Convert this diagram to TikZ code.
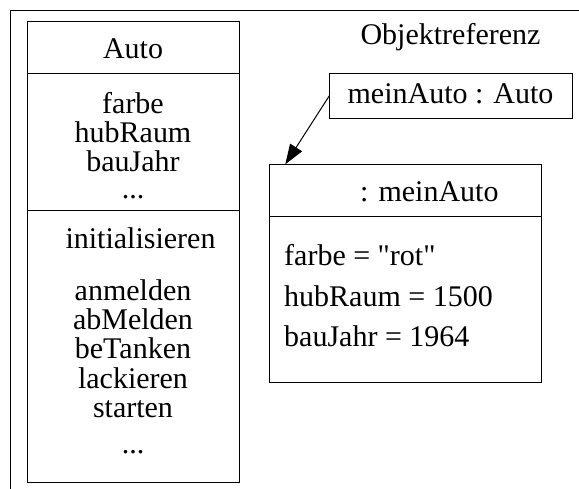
\documentclass[tikz,border=0pt]{standalone}
\usepackage{fontspec}
\setmainfont{Liberation Serif}[Ligatures=TeXOff]
\usetikzlibrary{arrows.meta}
\begin{document}
\begin{tikzpicture}[x=1pt,y=-1pt,
  box/.style={draw, line width=1pt, inner sep=0pt, outer sep=0pt, anchor=north west},
  lbl/.style={font=\fontsize{30}{29.3}\selectfont, inner sep=0pt, anchor=base},
  lblw/.style={lbl, anchor=base west},
  divider/.style={line width=1pt},
  refarrow/.style={line width=1pt, -{Triangle[length=20pt,width=14pt]}}]
\useasboundingbox (0,0) rectangle (579,488);
\clip (0,0) rectangle (579,488);

% surrounding frame
\draw[line width=1pt] (10.5,10.5) rectangle (620,520);

% class Auto
\node[box, minimum width=211.7pt, minimum height=461.5pt] (cls) at (27.3,21) {};
\path (cls.north west) ++(0,52) coordinate (c1a);
\path (cls.north east) ++(0,52) coordinate (c1b);
\path (cls.north west) ++(0,189) coordinate (c2a);
\path (cls.north east) ++(0,189) coordinate (c2b);
\draw[divider] (c1a) -- (c1b);
\draw[divider] (c2a) -- (c2b);

\node[lbl] (clsname) at (133,58) {Auto};
\foreach \t/\y [count=\i] in {farbe/113, hubRaum/142, bauJahr/171}
  \node[lbl] (attr\i) at (133,\y) {\t};
\node[lbl] (attrmore) at (133,198) {...};
\node[lbl] (op0) at (140.5,248) {initialisieren};
\foreach \t/\y [count=\i] in {anmelden/300, abMelden/329, beTanken/358, lackieren/388, starten/417}
  \node[lbl] (op\i) at (133,\y) {\t};
\node[lbl] (opmore) at (133,453) {...};

% object reference
\node[lbl] (reftitle) at (450.5,44) {Objektreferenz};
\node[box, minimum width=243pt, minimum height=45pt] (ref) at (329.3,73.3) {};
\node[lbl] (refname) at (450.5,103.5) {meinAuto : Auto};

% object meinAuto
\node[box, minimum width=272.4pt, minimum height=218.2pt] (obj) at (269.3,164.3) {};
\path (obj.north west) ++(0,52.4) coordinate (o1a);
\path (obj.north east) ++(0,52.4) coordinate (o1b);
\draw[divider] (o1a) -- (o1b);
\node[lblw] (objname) at (360,201) {: meinAuto};
\node[lblw] (oattr1) at (284,265) {farbe = "rot"};
\node[lblw] (oattr2) at (284,306) {hubRaum = 1500};
\node[lblw] (oattr3) at (284,346) {bauJahr = 1964};

% reference arrow
\path (obj.north west) ++(16,0) coordinate (tip);
\draw[refarrow] (ref.west) -- (tip);
\end{tikzpicture}
\end{document}
